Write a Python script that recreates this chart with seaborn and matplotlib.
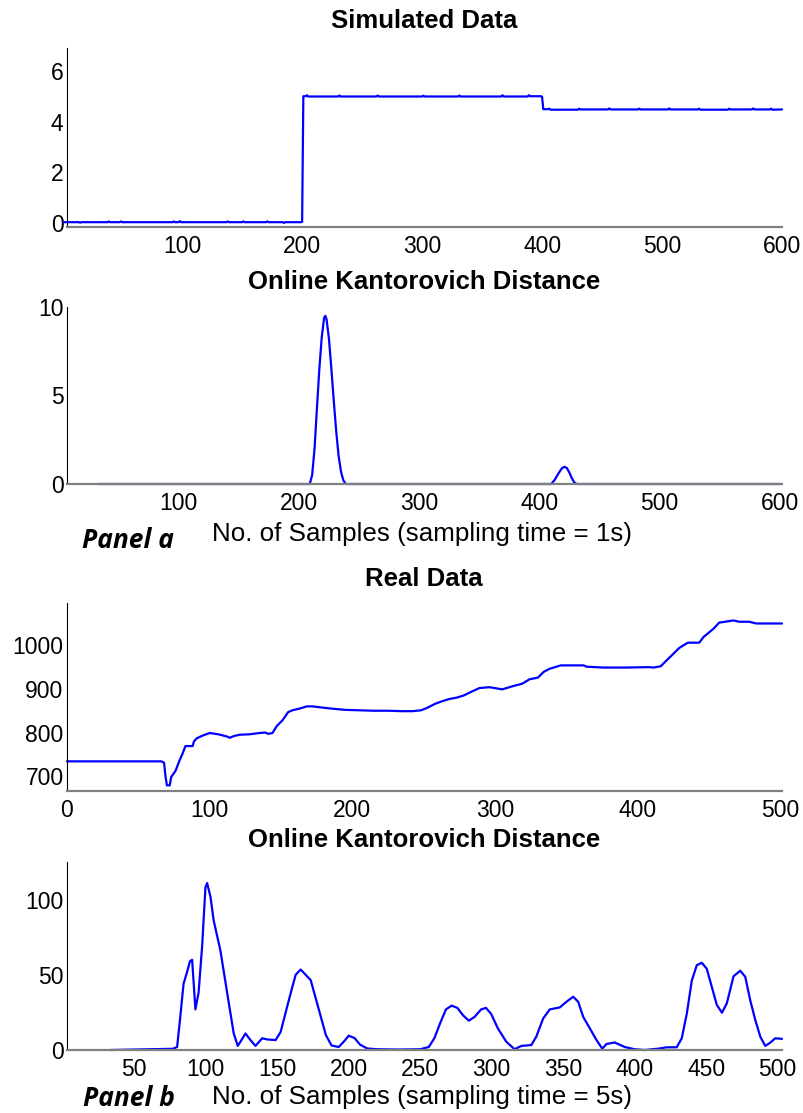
import matplotlib
matplotlib.use("Agg")
import matplotlib.pyplot as plt
import numpy as np
import pandas as pd
import seaborn as sns

# ---- Simulated signal: sample index / value vertices ----
sim_x = [1, 14, 15, 16, 38, 39, 40, 48, 49, 50, 92, 93, 94, 97, 98, 99, 137, 138, 139,
         150, 151, 152, 170, 171, 172, 184, 185, 186, 199, 200, 201, 203, 204, 205,
         230, 231, 232, 262, 263, 264, 300, 301, 302, 330, 331, 332, 366, 367, 368,
         388, 389, 390, 399, 400, 401, 405, 406, 407, 430, 431, 432, 455, 456, 457,
         480, 481, 482, 505, 506, 507, 530, 531, 532, 555, 556, 557, 575, 576, 577,
         590, 591, 592, 600]
sim_y = [0.04, 0.04, 0.02, 0.04, 0.04, 0.07, 0.04, 0.04, 0.07, 0.04, 0.04, 0.07, 0.04,
         0.04, 0.08, 0.04, 0.04, 0.07, 0.04, 0.04, 0.07, 0.04, 0.04, 0.07, 0.04,
         0.04, 0.01, 0.04, 0.04, 0.05, 5.00, 5.00, 5.04, 4.99, 4.99, 5.03, 4.99,
         4.99, 5.03, 4.99, 4.99, 5.02, 4.99, 4.99, 5.03, 4.99, 4.99, 5.04, 4.99,
         4.99, 5.04, 5.00, 5.00, 4.98, 4.49, 4.49, 4.51, 4.47, 4.47, 4.51, 4.48,
         4.48, 4.52, 4.48, 4.48, 4.51, 4.48, 4.48, 4.52, 4.48, 4.48, 4.51, 4.47,
         4.47, 4.51, 4.48, 4.48, 4.52, 4.48, 4.48, 4.51, 4.47, 4.48]

# ---- Online Kantorovich distance on simulated signal ----
kd_sim_x = [33, 209, 211, 213, 215, 217, 219, 221, 222, 223, 225, 227, 229, 231, 233,
            235, 237, 239, 410, 413, 416, 419, 421, 423, 425, 427, 429, 431, 601]
kd_sim_y = [0, 0, 0.5, 2.0, 4.3, 6.5, 8.3, 9.4, 9.5, 9.3, 8.2, 6.5, 4.7, 3.0, 1.6,
            0.7, 0.2, 0, 0, 0.25, 0.6, 0.9, 0.97, 0.9, 0.65, 0.35, 0.1, 0, 0]

# ---- Real signal ----
real_x = [0, 66, 68, 69, 70, 72, 73, 76, 79, 81, 83, 84, 88, 89, 91, 95, 100, 106,
          112, 114, 117, 121, 128, 135, 139, 141, 144, 147, 151, 155, 158, 163, 168,
          172, 177, 185, 195, 205, 215, 225, 235, 242, 248, 252, 258, 263, 268, 273,
          278, 283, 289, 296, 305, 312, 319, 324, 330, 334, 338, 346, 362, 364, 376,
          392, 408, 411, 416, 420, 425, 429, 435, 443, 446, 453, 457, 467, 471, 478,
          483, 501]
real_y = [734, 734, 731, 700, 679, 679, 698, 712, 737, 752, 769, 769, 769, 780, 787,
          793, 799, 796, 791, 788, 792, 795, 796, 799, 800, 797, 799, 815, 828, 847,
          851, 855, 860, 860, 858, 855, 852, 851, 850, 850, 849, 849, 851, 856, 866,
          872, 877, 880, 885, 893, 902, 904, 899, 906, 912, 922, 926, 939, 946, 954,
          954, 951, 949, 949, 950, 949, 952, 965, 981, 994, 1006, 1006, 1019, 1038,
          1052, 1057, 1054, 1054, 1050, 1050]

# ---- Online Kantorovich distance on real signal ----
kd_real_x = [33, 50, 77, 80, 82, 84.5, 87, 89, 90.5, 92.8, 95, 97.5, 99.8, 101, 103.3,
             105.6, 110.3, 115, 119.6, 122.4, 124.3, 127.8, 131.3, 134.8, 139.5, 143,
             148.9, 152.4, 157, 160.6, 162.9, 166.4, 173.4, 179.2, 184, 188, 193, 197,
             200, 204, 208, 213, 220, 235, 250, 256, 260, 264, 268, 272, 276, 280, 284,
             288, 292.6, 296, 299.6, 304.3, 310.2, 316, 320.7, 327.7, 331.2, 336,
             340.6, 347.6, 352.2, 357, 360.5, 364, 368.6, 373.3, 377.3, 380.3, 386,
             393, 400, 407, 416.6, 422.4, 429.4, 432.9, 436.4, 439.9, 443.4, 446.9,
             450.4, 453.9, 457.4, 461, 464.4, 469.1, 473.8, 477.3, 480.8, 484.3,
             487.8, 491.3, 494.8, 498.3, 503]
kd_real_y = [0, 0.3, 0.8, 2, 20, 44, 52, 59, 60, 27, 38, 69, 108, 111, 102, 86, 66,
             38, 11, 2.7, 5.5, 11, 6.6, 2.7, 7.8, 7, 6.6, 12, 29, 42, 50, 53.5, 46.5,
             26.6, 10, 3, 2, 6, 9.5, 8, 3.5, 1, 0.5, 0.3, 0.5, 2, 8, 18, 27, 29.5, 28,
             23, 19.5, 22, 27, 28, 24, 14.4, 5.5, 0.5, 2.7, 3.3, 8.9, 21, 27, 28.3, 32,
             35.4, 32, 22, 14.4, 6.6, 0.9, 4, 5, 2, 0.5, 0, 0.9, 1.8, 1.8, 7.8, 24, 46,
             56.4, 58, 54, 42, 30, 24.8, 31, 49, 52.7, 48.7, 33, 20, 8.9, 2.7, 4.9,
             7.8, 7.4]

sim_xticks = [100, 200, 300, 400, 500, 600]
sim_yticks = [0, 2, 4, 6]
kd_sim_yticks = [0, 5, 10]
real_xticks = [0, 100, 200, 300, 400, 500]
real_yticks = [700, 800, 900, 1000]
kd_real_xticks = [50, 100, 150, 200, 250, 300, 350, 400, 450, 500]
kd_real_yticks = [0, 50, 100]

sns.set_style("white")
plt.rcParams["font.family"] = ["Liberation Sans", "DejaVu Sans"]
plt.rcParams["text.color"] = "black"

W, H = 804, 1113
fig = plt.figure(figsize=(W / 100, H / 100), dpi=100)


def px_axes(left, top, right, bottom):
    return fig.add_axes([left / W, 1 - bottom / H, (right - left) / W, (bottom - top) / H])


def style(ax, xlim, ylim, xticks, yticks):
    ax.set_xlim(*xlim)
    ax.set_ylim(*ylim)
    ax.set_xticks(xticks)
    ax.set_yticks(yticks)
    ax.set_xlabel("")
    ax.set_ylabel("")
    for s in ("top", "right"):
        ax.spines[s].set_visible(False)
    ax.spines["left"].set_color("black")
    ax.spines["left"].set_linewidth(0.8)
    ax.spines["bottom"].set_color("#808080")
    ax.spines["bottom"].set_linewidth(1.6)
    ax.tick_params(axis="both", direction="in", length=6, width=0.8,
                   color="black", labelsize=16.5, labelcolor="black")
    ax.tick_params(axis="x", pad=6)
    ax.tick_params(axis="y", pad=2.5)
    ax.set_facecolor("white")


line_kw = dict(color="#0000ff", linewidth=1.6, estimator=None, sort=False)

ax1 = px_axes(67, 48, 782, 227)
sns.lineplot(data=pd.DataFrame({"n": sim_x, "v": sim_y}), x="n", y="v", ax=ax1, **line_kw)
style(ax1, (4, 600), (-0.15, 6.9), sim_xticks, sim_yticks)

ax2 = px_axes(67, 307, 782, 484)
sns.lineplot(data=pd.DataFrame({"n": kd_sim_x, "v": kd_sim_y}), x="n", y="v", ax=ax2, **line_kw)
style(ax2, (7, 602), (0, 10), sim_xticks, kd_sim_yticks)

ax3 = px_axes(67, 603, 782, 791)
sns.lineplot(data=pd.DataFrame({"n": real_x, "v": real_y}), x="n", y="v", ax=ax3, **line_kw)
style(ax3, (0, 501), (666, 1097), real_xticks, real_yticks)

ax4 = px_axes(67, 862, 782, 1050)
sns.lineplot(data=pd.DataFrame({"n": kd_real_x, "v": kd_real_y}), x="n", y="v", ax=ax4, **line_kw)
style(ax4, (3, 503), (0, 125), kd_real_xticks, kd_real_yticks)

for a in (ax1, ax2, ax3, ax4):
    for ln in a.lines:
        ln.set_clip_on(False)

cx = 424 / W
title_kw = dict(ha="center", va="baseline", fontsize=18.5, fontweight="bold", color="black")
fig.text(cx, 1 - 28 / H, "Simulated Data", **title_kw)
fig.text(cx, 1 - 289 / H, "Online Kantorovich Distance", **title_kw)
fig.text(cx, 1 - 586 / H, "Real Data", **title_kw)
fig.text(cx, 1 - 847 / H, "Online Kantorovich Distance", **title_kw)

xl_kw = dict(ha="center", va="baseline", fontsize=18.7, color="black")
fig.text(422 / W, 1 - 541 / H, "No. of Samples (sampling time = 1s)", **xl_kw)
fig.text(422 / W, 1 - 1104 / H, "No. of Samples (sampling time = 5s)", **xl_kw)

pl_kw = dict(ha="left", va="baseline", fontsize=19, fontweight="bold", color="black",
             fontstyle="italic", family=["Open Sans", "DejaVu Sans"])
fig.text(82 / W, 1 - 548 / H, "Panel a", **pl_kw)
fig.text(83 / W, 1 - 1106 / H, "Panel b", **pl_kw)

fig.savefig("out.png", dpi=100, facecolor="white")
